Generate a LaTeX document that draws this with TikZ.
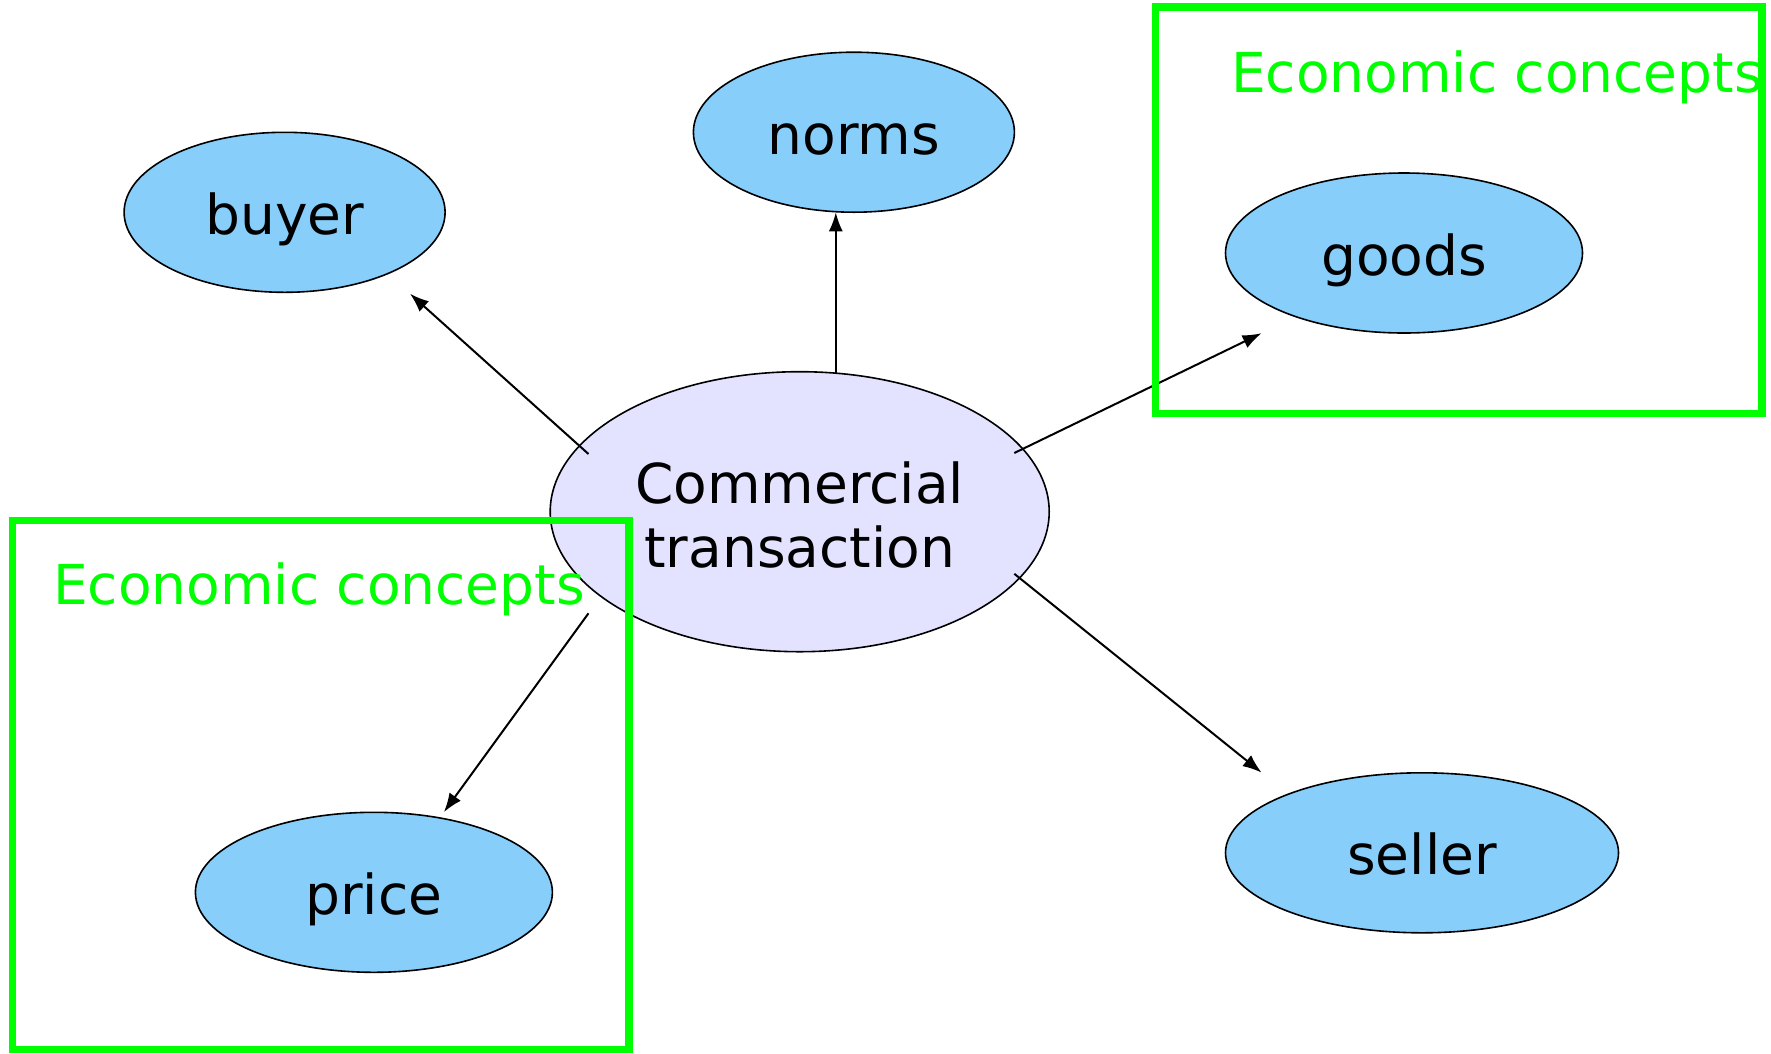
\documentclass[tikz,border=0pt]{standalone}
\usepackage{fontspec}
\setmainfont{DejaVu Sans}
\usetikzlibrary{shapes.geometric,arrows.meta}
\definecolor{nodeblue}{HTML}{87CEFA}
\definecolor{ctfill}{HTML}{E3E3FF}
\definecolor{boxgreen}{HTML}{00FF00}
\tikzset{
  concept/.style={ellipse, draw=black, line width=1.6pt, fill=nodeblue, inner sep=0pt,
    font=\fontsize{55}{64}\selectfont, text=black, text height=44pt, text depth=0pt},
  central/.style={ellipse, draw=black, line width=1.6pt, fill=ctfill, inner sep=0pt,
    font=\fontsize{55}{64}\selectfont, text=black, align=center, text height=110.6pt, text depth=0pt},
  link/.style={-{Latex[length=19pt,width=14pt]}, line width=2pt, draw=black},
  greenbox/.style={draw=boxgreen, line width=7.5pt},
  greenlabel/.style={anchor=base west, inner sep=0pt, text=boxgreen, font=\fontsize{55}{64}\selectfont}
}
\begin{document}
\begin{tikzpicture}[x=1pt,y=-1pt]
\useasboundingbox (0,0) rectangle (1771,1053);
% nodes
\node[concept, minimum width=321pt, minimum height=160pt] (buyer) at (284.6,212.3) {buyer};
\node[concept, minimum width=321pt, minimum height=160pt] (norms) at (853.9,132.2) {norms};
\node[concept, minimum width=357pt, minimum height=160pt] (goods) at (1404,253) {goods};
\node[central, minimum width=499pt, minimum height=280pt] (ct) at (799.7,511.7) {Commercial\\transaction};
\node[concept, minimum width=357pt, minimum height=160pt] (price) at (373.9,892.3) {price};
\node[concept, minimum width=393pt, minimum height=160pt] (seller) at (1422,852.8) {seller};
% connector end points
\coordinate (ctbuyer) at (588.5,454);
\coordinate (buyerend) at (410,293.7);
\coordinate (ctnorms) at (835.8,372.7);
\coordinate (normsend) at (835.8,212.3);
\coordinate (ctgoods) at (1014.3,453);
\coordinate (goodsend) at (1261.6,333.2);
\coordinate (ctprice) at (588.5,613.3);
\coordinate (priceend) at (443.9,812.1);
\coordinate (ctseller) at (1014.3,573.8);
\coordinate (sellerend) at (1261.6,772.6);
% connectors
\draw[link] (ctbuyer) -- (buyerend);
\draw[link] (ctnorms) -- (normsend);
\draw[link] (ctgoods) -- (goodsend);
\draw[link] (ctprice) -- (priceend);
\draw[link] (ctseller) -- (sellerend);
% green boxes
\draw[greenbox] (1155.5,6.8) rectangle (1762,413.4);
\node[greenlabel] (lab1) at (1231,92.6) {Economic concepts};
\draw[greenbox] (12.4,520.7) rectangle (629,1049.5);
\node[greenlabel] (lab2) at (53,604) {Economic concepts};
\end{tikzpicture}
\end{document}
